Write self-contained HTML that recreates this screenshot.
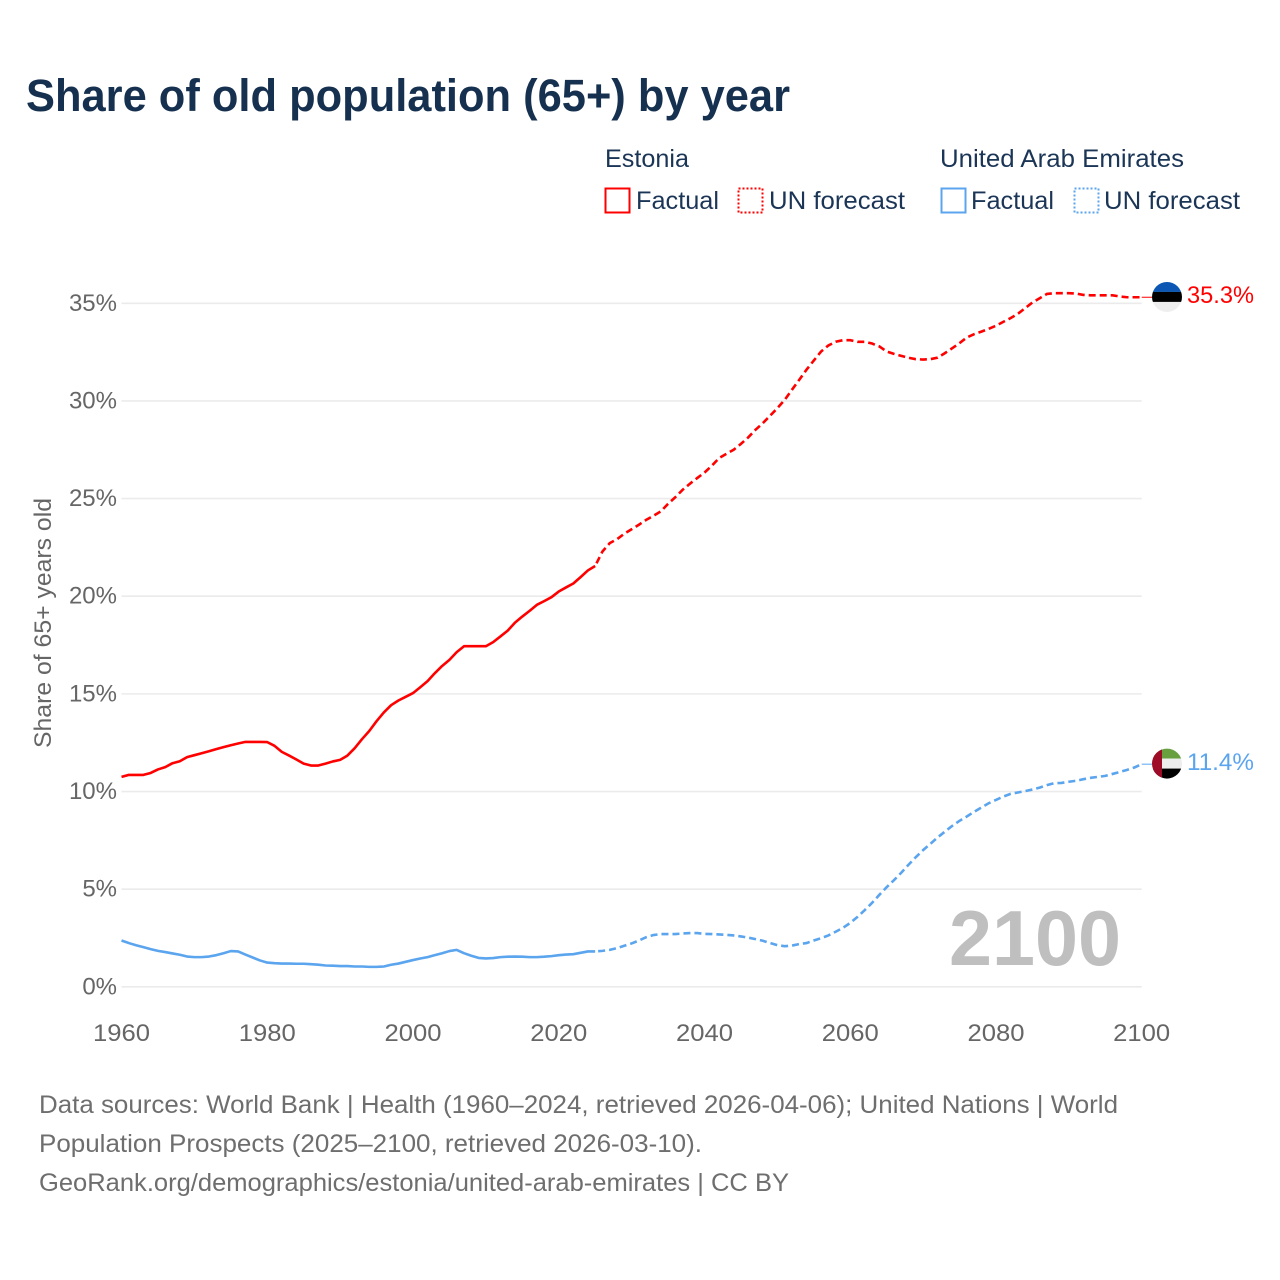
<!DOCTYPE html>
<html lang="en">
<head>
<meta charset="utf-8">
<title>Share of old population (65+) by year</title>
<style>
html,body{margin:0;padding:0;background:#fff;}
svg{display:block;}
text{font-family:"Liberation Sans",sans-serif;}
</style>
</head>
<body>
<svg id="chart" xmlns="http://www.w3.org/2000/svg" width="1280" height="1280" viewBox="0 0 1280 1280">
  <rect width="1280" height="1280" fill="#fff"/>
  <text x="26" y="111" font-size="45" font-weight="700" fill="#16304f" textLength="764" lengthAdjust="spacingAndGlyphs">Share of old population (65+) by year</text>

  <g font-size="25" fill="#1b3556">
    <text x="605" y="167" textLength="84" lengthAdjust="spacingAndGlyphs">Estonia</text>
    <text x="940" y="167" textLength="244" lengthAdjust="spacingAndGlyphs">United Arab Emirates</text>
    <rect x="605.5" y="188.5" width="24" height="24" fill="none" stroke="#ff0000" stroke-width="2"/>
    <text x="636" y="209" textLength="83" lengthAdjust="spacingAndGlyphs">Factual</text>
    <rect x="738.5" y="188.5" width="24" height="24" fill="none" stroke="#ff0000" stroke-width="2" stroke-dasharray="2 2"/>
    <text x="769" y="209" textLength="136" lengthAdjust="spacingAndGlyphs">UN forecast</text>
    <rect x="941.5" y="188.5" width="24" height="24" fill="none" stroke="#5ba4ee" stroke-width="2"/>
    <text x="971" y="209" textLength="83" lengthAdjust="spacingAndGlyphs">Factual</text>
    <rect x="1074.5" y="188.5" width="24" height="24" fill="none" stroke="#5ba4ee" stroke-width="2" stroke-dasharray="2 2"/>
    <text x="1104" y="209" textLength="136" lengthAdjust="spacingAndGlyphs">UN forecast</text>
  </g>

  <text transform="translate(51,748) rotate(-90)" font-size="24" fill="#666" textLength="250" lengthAdjust="spacingAndGlyphs">Share of 65+ years old</text>

  <g id="grid"></g>
  <g id="yticks"></g>
  <g id="xticks"></g>
  <text id="watermark" x="949" y="965" font-size="78" font-weight="700" fill="#bfbfbf" textLength="172" lengthAdjust="spacingAndGlyphs"></text>
  <g id="series"></g>

  <defs>
    <clipPath id="flag-clip"><circle cx="0" cy="0" r="15"/></clipPath>
  </defs>
  <g id="flag-estonia" clip-path="url(#flag-clip)">
    <rect x="-15" y="-16" width="30" height="11" fill="#0b57b3"/>
    <rect x="-15" y="-5" width="30" height="10" fill="#000"/>
    <rect x="-15" y="5" width="30" height="11" fill="#eeeeee"/>
  </g>
  <g id="flag-uae" clip-path="url(#flag-clip)">
    <rect x="-15" y="-16" width="30" height="11" fill="#68a040"/>
    <rect x="-15" y="-5" width="30" height="10" fill="#eeeeee"/>
    <rect x="-15" y="5" width="30" height="11" fill="#000"/>
    <rect x="-15" y="-16" width="10" height="32" fill="#9e0b26"/>
  </g>
  <text id="label-estonia" x="1187" font-size="24" fill="#ff0000" textLength="67" lengthAdjust="spacingAndGlyphs"></text>
  <text id="label-uae" x="1187" font-size="24" fill="#5ba4ee" textLength="67" lengthAdjust="spacingAndGlyphs"></text>

  <g font-size="25" fill="#6e6e6e">
    <text x="39" y="1113" textLength="1079" lengthAdjust="spacingAndGlyphs">Data sources: World Bank | Health (1960–2024, retrieved 2026-04-06); United Nations | World</text>
    <text x="39" y="1152" textLength="663" lengthAdjust="spacingAndGlyphs">Population Prospects (2025–2100, retrieved 2026-03-10).</text>
    <text x="39" y="1191" textLength="750" lengthAdjust="spacingAndGlyphs">GeoRank.org/demographics/estonia/united-arab-emirates | CC BY</text>
  </g>
</svg>
<script>
const xTickYears = [1960, 1980, 2000, 2020, 2040, 2060, 2080, 2100];
const yTickValues = [0, 5, 10, 15, 20, 25, 30, 35];
const factualStartYear = 1960;
const forecastStartYear = 2025;
const estoniaFactual = [10.75,10.85,10.85,10.85,10.95,11.13,11.25,11.45,11.55,11.76,11.86,11.96,12.06,12.17,12.27,12.37,12.46,12.54,12.54,12.54,12.53,12.34,12.03,11.84,11.64,11.43,11.33,11.33,11.43,11.54,11.62,11.84,12.22,12.68,13.1,13.6,14.05,14.42,14.66,14.85,15.04,15.34,15.65,16.06,16.43,16.74,17.14,17.44,17.44,17.44,17.44,17.65,17.94,18.24,18.65,18.96,19.25,19.56,19.75,19.95,20.24,20.45,20.65,20.98,21.32,21.55];
const estoniaForecast = [21.55,22.29,22.72,22.92,23.2,23.43,23.66,23.91,24.12,24.34,24.73,25.07,25.45,25.76,26.05,26.33,26.68,27.07,27.29,27.5,27.8,28.13,28.52,28.86,29.24,29.63,30.05,30.57,31.08,31.6,32.07,32.53,32.84,33.03,33.11,33.11,33.03,33.03,32.94,32.79,32.53,32.41,32.31,32.21,32.14,32.12,32.14,32.22,32.45,32.7,32.96,33.25,33.42,33.55,33.69,33.85,34.05,34.24,34.46,34.75,35.04,35.26,35.48,35.52,35.52,35.52,35.5,35.43,35.41,35.41,35.41,35.41,35.35,35.31,35.31,35.31];
const uaeFactual = [2.37,2.24,2.13,2.03,1.93,1.84,1.78,1.71,1.64,1.55,1.52,1.52,1.55,1.62,1.72,1.83,1.81,1.65,1.5,1.35,1.24,1.21,1.19,1.19,1.18,1.18,1.16,1.13,1.09,1.08,1.06,1.06,1.04,1.04,1.02,1.02,1.04,1.13,1.19,1.28,1.37,1.45,1.52,1.62,1.72,1.83,1.89,1.72,1.59,1.48,1.45,1.47,1.52,1.54,1.55,1.54,1.52,1.52,1.54,1.57,1.62,1.65,1.67,1.74,1.81,1.81];
const uaeForecast = [1.81,1.84,1.89,1.98,2.1,2.22,2.37,2.54,2.65,2.7,2.7,2.7,2.73,2.75,2.75,2.71,2.7,2.68,2.66,2.63,2.58,2.52,2.44,2.36,2.24,2.13,2.08,2.11,2.19,2.24,2.37,2.49,2.63,2.82,3.02,3.27,3.58,3.93,4.3,4.71,5.1,5.46,5.84,6.25,6.64,7.0,7.32,7.65,7.95,8.24,8.5,8.72,8.96,9.18,9.4,9.57,9.74,9.88,9.95,10.02,10.1,10.2,10.33,10.43,10.44,10.5,10.55,10.63,10.7,10.75,10.8,10.9,11.0,11.11,11.23,11.4];

const SVG_NS = 'http://www.w3.org/2000/svg';
const xLeft = 121.5, xRight = 1141.7, xMin = 1960, xMax = 2100;
const yZero = 986.8, yTop = 303.3, yTopValue = 35;
function xScale(year) { return xLeft + (year - xMin) * (xRight - xLeft) / (xMax - xMin); }
function yScale(value) { return yZero - value * (yZero - yTop) / yTopValue; }
function linePath(values, startYear) {
  return values.map(function (v, i) {
    return (i ? 'L' : 'M') + xScale(startYear + i).toFixed(2) + ' ' + yScale(v).toFixed(2);
  }).join(' ');
}
function create(tag, parentId) {
  const el = document.createElementNS(SVG_NS, tag);
  document.getElementById(parentId).appendChild(el);
  return el;
}

yTickValues.forEach(function (v) {
  const line = create('line', 'grid');
  
  
  line.setAttribute('x1', xLeft);
  line.setAttribute('x2', xRight);
  line.setAttribute('y1', yScale(v));
  line.setAttribute('y2', yScale(v));
  line.setAttribute('stroke', '#ebebeb');
  line.setAttribute('stroke-width', '1.6');
  const label = create('text', 'yticks');
  
  
  label.setAttribute('x', 117);
  label.setAttribute('y', yScale(v) + 7.5);
  label.setAttribute('text-anchor', 'end');
  label.setAttribute('font-size', '24');
  label.setAttribute('fill', '#666');
  label.textContent = v + '%';
});

xTickYears.forEach(function (year) {
  const label = create('text', 'xticks');
  
  
  label.setAttribute('x', xScale(year));
  label.setAttribute('y', 1041);
  label.setAttribute('text-anchor', 'middle');
  label.setAttribute('font-size', '24');
  label.setAttribute('fill', '#666');
  label.setAttribute('textLength', '57');
  label.setAttribute('lengthAdjust', 'spacingAndGlyphs');
  label.textContent = year;
});

const estoniaFactualLine = create('path', 'series');


estoniaFactualLine.setAttribute('d', linePath(estoniaFactual, factualStartYear));
estoniaFactualLine.setAttribute('fill', 'none');
estoniaFactualLine.setAttribute('stroke', '#ff0000');
estoniaFactualLine.setAttribute('stroke-width', '2.6');
estoniaFactualLine.setAttribute('stroke-linejoin', 'round');

const estoniaForecastLine = create('path', 'series');


estoniaForecastLine.setAttribute('d', linePath(estoniaForecast, forecastStartYear));
estoniaForecastLine.setAttribute('fill', 'none');
estoniaForecastLine.setAttribute('stroke', '#ff0000');
estoniaForecastLine.setAttribute('stroke-width', '2.6');
estoniaForecastLine.setAttribute('stroke-dasharray', '7 4');
estoniaForecastLine.setAttribute('stroke-dashoffset', '8');

const uaeFactualLine = create('path', 'series');


uaeFactualLine.setAttribute('d', linePath(uaeFactual, factualStartYear));
uaeFactualLine.setAttribute('fill', 'none');
uaeFactualLine.setAttribute('stroke', '#5ba4ee');
uaeFactualLine.setAttribute('stroke-width', '2.6');
uaeFactualLine.setAttribute('stroke-linejoin', 'round');

const uaeForecastLine = create('path', 'series');


uaeForecastLine.setAttribute('d', linePath(uaeForecast, forecastStartYear));
uaeForecastLine.setAttribute('fill', 'none');
uaeForecastLine.setAttribute('stroke', '#5ba4ee');
uaeForecastLine.setAttribute('stroke-width', '2.6');
uaeForecastLine.setAttribute('stroke-dasharray', '7 4');
uaeForecastLine.setAttribute('stroke-dashoffset', '8');

const estoniaLast = estoniaForecast[estoniaForecast.length - 1];
const uaeLast = uaeForecast[uaeForecast.length - 1];
const lastYear = forecastStartYear + estoniaForecast.length - 1;

const estoniaConnector = create('line', 'series');


estoniaConnector.setAttribute('x1', xScale(lastYear));
estoniaConnector.setAttribute('x2', 1153);
estoniaConnector.setAttribute('y1', yScale(estoniaLast));
estoniaConnector.setAttribute('y2', yScale(estoniaLast));
estoniaConnector.setAttribute('stroke', '#ff0000');
estoniaConnector.setAttribute('stroke-width', '1');

const uaeConnector = create('line', 'series');


uaeConnector.setAttribute('x1', xScale(lastYear));
uaeConnector.setAttribute('x2', 1153);
uaeConnector.setAttribute('y1', yScale(uaeLast));
uaeConnector.setAttribute('y2', yScale(uaeLast));
uaeConnector.setAttribute('stroke', '#5ba4ee');
uaeConnector.setAttribute('stroke-width', '1');

document.getElementById('flag-estonia').setAttribute('transform', 'translate(1167,' + (yScale(estoniaLast) - 0.3) + ')');
document.getElementById('flag-uae').setAttribute('transform', 'translate(1167,' + (yScale(uaeLast) - 0.6) + ')');
const estoniaLabel = document.getElementById('label-estonia');
estoniaLabel.setAttribute('y', yScale(estoniaLast) + 6);
estoniaLabel.textContent = estoniaLast.toFixed(1) + '%';
const uaeLabel = document.getElementById('label-uae');
uaeLabel.setAttribute('y', yScale(uaeLast) + 6);
uaeLabel.textContent = uaeLast.toFixed(1) + '%';
document.getElementById('watermark').textContent = lastYear;
</script>
</body>
</html>
